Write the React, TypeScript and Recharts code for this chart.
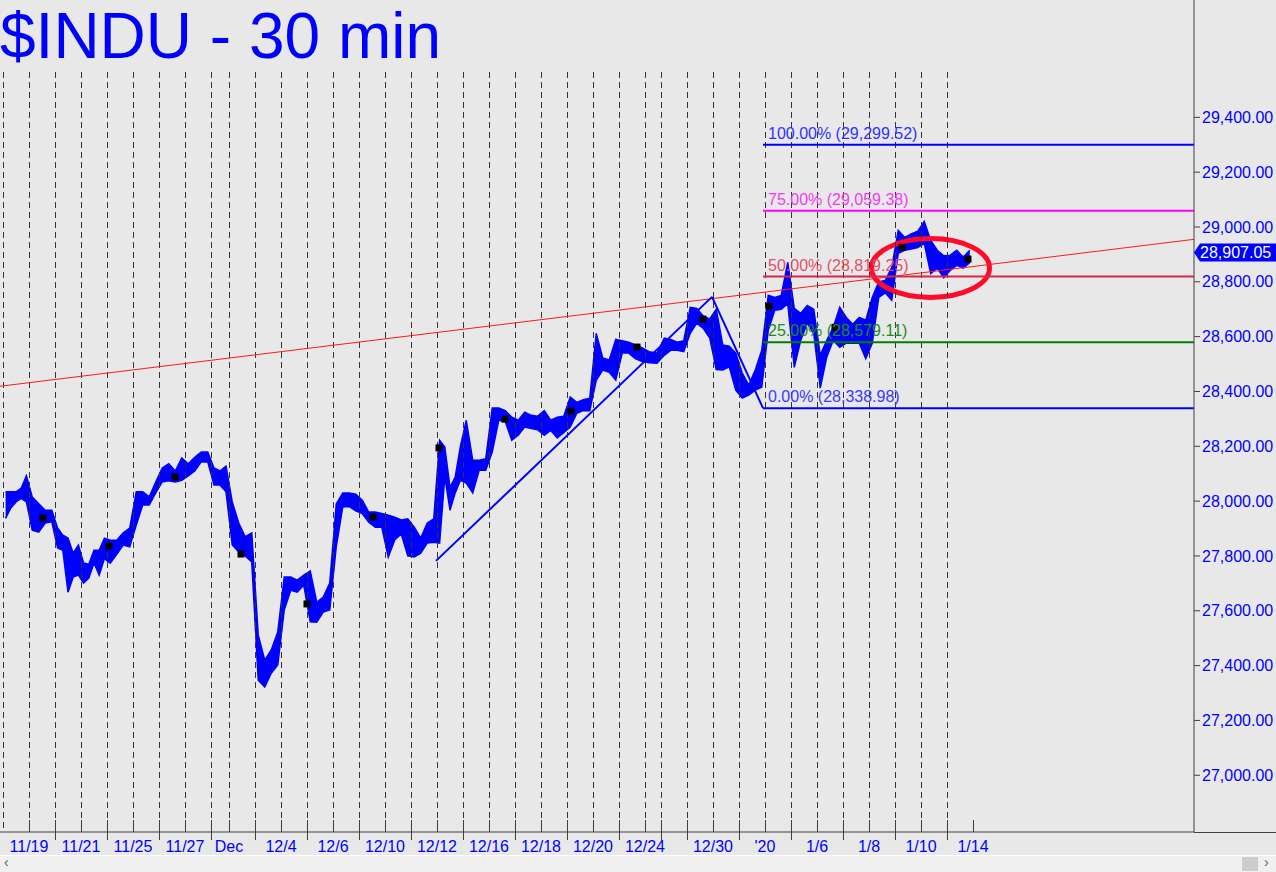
import React from 'react';
import {
  ComposedChart,
  Area,
  XAxis,
  YAxis,
  ReferenceLine,
  ReferenceArea,
  ReferenceDot,
  Scatter,
} from 'recharts';

const FONT = '"Liberation Sans", Arial, Helvetica, sans-serif';

// trading days shown (each 30-min bar = 1 unit on the time axis)
const days = [
  '11/18', '11/19', '11/20', '11/21', '11/22', '11/25', '11/26', '11/27', '11/29',
  '12/2', '12/3', '12/4', '12/5', '12/6', '12/9', '12/10', '12/11', '12/12', '12/13',
  '12/16', '12/17', '12/18', '12/19', '12/20', '12/23', '12/24', '12/26', '12/27',
  '12/30', '12/31', '1/2', '1/3', '1/6', '1/7', '1/8', '1/9', '1/10', '1/13', '1/14',
];
const dayBars = [
  13, 13, 13, 13, 13, 13, 13, 13, 9,
  13, 13, 13, 13, 13, 13, 13, 13, 13, 13,
  13, 13, 13, 13, 13, 13, 8, 13, 13,
  13, 13, 13, 13, 13, 13, 13, 13, 13, 13, 13,
];
const firstDayStart = 1.5;
const totalBars = 597;

// x-axis labels (every other session)
const axisLabels: Record<string, string> = {
  '11/19': '11/19', '11/21': '11/21', '11/25': '11/25', '11/27': '11/27', '12/2': 'Dec',
  '12/4': '12/4', '12/6': '12/6', '12/10': '12/10', '12/12': '12/12', '12/16': '12/16',
  '12/18': '12/18', '12/20': '12/20', '12/24': '12/24', '12/30': '12/30', '1/2': "'20",
  '1/6': '1/6', '1/8': '1/8', '1/10': '1/10', '1/14': '1/14',
};

// price bands [low, high] sampled through each session
const priceRanges: [number, number][][] = [
  [[27937, 28034], [27975, 28034], [27997, 28034], [28010, 28047], [27997, 28092]],
  [[27894, 28015], [27887, 27990], [27920, 27967], [27925, 27967]],
  [[27829, 27902], [27821, 27876], [27668, 27865], [27723, 27810], [27730, 27840]],
  [[27701, 27774], [27719, 27770], [27774, 27821], [27730, 27821], [27790, 27865]],
  [[27774, 27857], [27806, 27857], [27840, 27884], [27833, 27902]],
  [[27913, 28034], [27986, 28034], [27986, 28016], [28030, 28070]],
  [[28070, 28121], [28074, 28136], [28070, 28110], [28076, 28157]],
  [[28092, 28136], [28110, 28160], [28143, 28179], [28143, 28179]],
  [[28059, 28121], [28059, 28110], [28034, 28128]],
  [[27840, 27997], [27815, 27920], [27800, 27870], [27778, 27884]],
  [[27347, 27511], [27322, 27420], [27372, 27457], [27402, 27523]],
  [[27603, 27723], [27675, 27723], [27668, 27712], [27694, 27730]],
  [[27560, 27745], [27558, 27631], [27595, 27650], [27603, 27701]],
  [[27833, 27990], [27979, 28030], [27980, 28030], [27965, 28025]],
  [[27955, 28003], [27923, 27960], [27905, 27960], [27905, 27955]],
  [[27796, 27949], [27858, 27941], [27880, 27931], [27800, 27935]],
  [[27796, 27905], [27810, 27865], [27847, 27920], [27850, 27935]],
  [[27847, 28222], [28088, 28197], [27967, 28050], [28030, 28088], [28076, 28200]],
  [[28066, 28295], [28030, 28149], [28113, 28149], [28113, 28155]],
  [[28179, 28340], [28295, 28340], [28290, 28330], [28222, 28306]],
  [[28240, 28295], [28270, 28324], [28265, 28313], [28260, 28310]],
  [[28240, 28330], [28258, 28295], [28230, 28306], [28250, 28310]],
  [[28270, 28380], [28320, 28360], [28330, 28370], [28330, 28375]],
  [[28441, 28612], [28478, 28522], [28470, 28515], [28441, 28590]],
  [[28540, 28585], [28540, 28580], [28520, 28570], [28510, 28560]],
  [[28505, 28545], [28503, 28540]],
  [[28532, 28595], [28550, 28590], [28550, 28580], [28545, 28585]],
  [[28612, 28707], [28649, 28703], [28630, 28675], [28595, 28665]],
  [[28480, 28700], [28478, 28570], [28490, 28565], [28405, 28540]],
  [[28376, 28467], [28387, 28423], [28405, 28478], [28415, 28550]],
  [[28623, 28751], [28696, 28743], [28700, 28750], [28720, 28871]],
  [[28488, 28703], [28587, 28685], [28649, 28714], [28612, 28700]],
  [[28412, 28532], [28525, 28587], [28587, 28634], [28561, 28707]],
  [[28576, 28670], [28576, 28645], [28576, 28670], [28520, 28660]],
  [[28576, 28743], [28743, 28800], [28760, 28805], [28733, 28852]],
  [[28904, 28988], [28915, 28962], [28920, 28975], [28925, 28985]],
  [[28940, 29020], [28830, 28951], [28850, 28915], [28815, 28895]],
  [[28842, 28897], [28860, 28915], [28850, 28890], [28870, 28915]],
  [],
];

// black marker squares
const markerBars = [21.5, 54.5, 87.5, 120.5, 153.5, 186.5, 219.5, 252.5, 285.5, 318.5, 351.5, 384.5, 417.5, 451, 484];
const markerPrices = [27938, 27836, 28088, 27807, 27625, 27942, 28194, 28299, 28328, 28562, 28664, 28711, 28634, 28926, 28883];

const yTicks = [27000, 27200, 27400, 27600, 27800, 28000, 28200, 28400, 28600, 28800, 29000, 29200, 29400];
const yDomain: [number, number] = [26793, 29828];
const gridTopPrice = 29565;

// Fibonacci levels
const fibPercents = ['100.00%', '75.00%', '50.00%', '25.00%', '0.00%'];
const fibValues = [29299.52, 29059.38, 28819.25, 28579.11, 28338.98];
const fibLineColors = ['#0000ff', '#ff00ff', '#d8284a', '#008000', '#0000ff'];
const fibTextColors = ['#3232ff', '#f03cf0', '#e05068', '#1c8c1c', '#3a3aff'];
const fibStartBar = 381.5;

// drawn lines
const trendBars = [0, 597];
const trendPrices = [28419, 28955];
const zigBars = [218, 356, 381.5];
const zigPrices = [27782, 28745, 28338.98];
const ellipseBars = [435.75, 494.75];
const ellipsePrices = [28743, 28958];
const lastPrice = 28907.05;

const dayStarts: number[] = [];
{
  let s = firstDayStart;
  for (let i = 0; i < days.length; i++) {
    dayStarts.push(s);
    s += dayBars[i];
  }
}

const priceData: { x: number; band: [number, number] }[] = [];
priceRanges.forEach((ranges, d) => {
  const n = ranges.length;
  ranges.forEach((r, i) => {
    priceData.push({ x: dayStarts[d] + ((i + 0.5) * dayBars[d]) / n, band: r });
  });
});

const markers = markerBars.map((b, i) => ({ x: b, p: markerPrices[i] }));

const fmt = (v: number) =>
  v.toLocaleString('en-US', { minimumFractionDigits: 2, maximumFractionDigits: 2 });

const startToDay = new Map<number, string>();
dayStarts.forEach((s, i) => startToDay.set(s, days[i]));

const XTick = (props: any) => {
  const { x, y, payload } = props;
  const day = startToDay.get(payload.value) || '';
  const label = axisLabels[day];
  return (
    <g>
      <line
        x1={x}
        x2={x}
        y1={y - 12}
        y2={label ? y : y + 8}
        stroke="#404040"
        strokeWidth={1}
        shapeRendering="crispEdges"
      />
      {label ? (
        <text x={x} y={y + 20} textAnchor="middle" fill="#0000ff" fontSize={16} fontFamily={FONT}>
          {label}
        </text>
      ) : null}
    </g>
  );
};

const Square = (props: any) => (
  <rect x={props.cx - 3.5} y={props.cy - 3.5} width={7} height={7} fill="#000" />
);

export default function App() {
  return (
    <div
      style={{
        position: 'fixed',
        left: 0,
        top: 0,
        width: 1276,
        height: 872,
        background: '#e8e8e8',
        overflow: 'hidden',
        fontFamily: FONT,
      }}
    >
      <ComposedChart
        width={1276}
        height={855}
        data={priceData}
        margin={{ top: 0, right: 0, bottom: 0, left: 0 }}
      >
        <XAxis
          type="number"
          dataKey="x"
          domain={[0, totalBars]}
          ticks={dayStarts.slice(1)}
          tick={<XTick />}
          tickSize={0}
          tickMargin={0}
          height={23}
          axisLine={{ stroke: '#404040' }}
          tickLine={false}
          allowDataOverflow
          interval={0}
        />
        <YAxis
          orientation="right"
          type="number"
          domain={yDomain}
          ticks={yTicks}
          width={82}
          allowDataOverflow
          tickFormatter={fmt}
          tickSize={6}
          tickMargin={2}
          interval={0}
          tick={{ fill: '#0000ff', fontSize: 16, fontFamily: FONT, textAnchor: 'start' }}
          axisLine={{ stroke: '#404040' }}
          tickLine={{ stroke: '#404040' }}
        />
        {dayStarts.slice(0, -1).map((s) => (
          <ReferenceLine
            key={'d' + s}
            segment={[
              { x: s, y: gridTopPrice },
              { x: s, y: yDomain[0] },
            ]}
            stroke="#333333"
            strokeWidth={1}
            strokeDasharray="6 4"
            shapeRendering="crispEdges"
          />
        ))}
        <ReferenceLine
          segment={[
            { x: trendBars[0], y: trendPrices[0] },
            { x: trendBars[1], y: trendPrices[1] },
          ]}
          stroke="#ff1a1a"
          strokeWidth={1}
        />
        {fibValues.map((v, i) => (
          <ReferenceLine
            key={'f' + i}
            segment={[
              { x: fibStartBar, y: v },
              { x: totalBars, y: v },
            ]}
            stroke={fibLineColors[i]}
            strokeWidth={2}
          />
        ))}
        <Area
          type="linear"
          dataKey="band"
          stroke="#0000ff"
          strokeWidth={1.5}
          fill="#0000ff"
          fillOpacity={1}
          dot={false}
          activeDot={false}
          isAnimationActive={false}
        />
        <ReferenceLine
          segment={[
            { x: zigBars[0], y: zigPrices[0] },
            { x: zigBars[1], y: zigPrices[1] },
          ]}
          stroke="#0000ff"
          strokeWidth={2}
        />
        <ReferenceLine
          segment={[
            { x: zigBars[1], y: zigPrices[1] },
            { x: zigBars[2], y: zigPrices[2] },
          ]}
          stroke="#0000ff"
          strokeWidth={2}
        />
        <Scatter data={markers} dataKey="p" shape={<Square />} isAnimationActive={false} />
        {fibValues.map((v, i) => (
          <ReferenceDot
            key={'fl' + i}
            x={fibStartBar}
            y={v}
            ifOverflow="visible"
            shape={(p: any) => (
              <text x={p.cx + 5} y={p.cy - 6} fill={fibTextColors[i]} fontSize={16} fontFamily={FONT}>
                {`${fibPercents[i]} (${fmt(v)})`}
              </text>
            )}
          />
        ))}
        <ReferenceArea
          x1={ellipseBars[0]}
          x2={ellipseBars[1]}
          y1={ellipsePrices[0]}
          y2={ellipsePrices[1]}
          ifOverflow="visible"
          shape={(p: any) => (
            <ellipse
              cx={p.x + p.width / 2}
              cy={p.y + p.height / 2}
              rx={Math.abs(p.width / 2)}
              ry={Math.abs(p.height / 2)}
              fill="none"
              stroke="#ff0a2a"
              strokeWidth={5}
            />
          )}
        />
        <ReferenceDot
          x={totalBars}
          y={lastPrice}
          ifOverflow="visible"
          shape={(p: any) => (
            <g>
              <polygon
                points={`${p.cx},${p.cy} ${p.cx + 6},${p.cy - 9} ${p.cx + 82},${p.cy - 9} ${p.cx + 82},${p.cy + 9} ${p.cx + 6},${p.cy + 9}`}
                fill="#0000ff"
              />
              <text x={p.cx + 6} y={p.cy} dy="0.36em" fill="#ffffff" fontSize={16} fontFamily={FONT}>
                {fmt(lastPrice)}
              </text>
            </g>
          )}
        />
      </ComposedChart>
      <svg
        width={500}
        height={80}
        style={{ position: 'absolute', left: 0, top: 0, pointerEvents: 'none' }}
      >
        <text x={0} y={58} fill="#0000ff" fontSize={64} fontFamily={FONT}>
          $INDU - 30 min
        </text>
      </svg>
      <div style={{ position: 'absolute', left: 1194, top: 832, width: 82, height: 1, background: '#404040' }} />
      <div style={{ position: 'absolute', left: 0, top: 855, width: 1276, height: 1, background: '#ffffff' }} />
      <div style={{ position: 'absolute', left: 0, top: 856, width: 1276, height: 16, background: '#f0f0f0' }}>
        <span style={{ position: 'absolute', left: 4, top: -2, fontSize: 14, color: '#606060' }}>‹</span>
        <div style={{ position: 'absolute', left: 1242, top: 1, width: 16, height: 14, background: '#cdcdcd' }} />
        <span style={{ position: 'absolute', left: 1264, top: -2, fontSize: 14, color: '#606060' }}>›</span>
      </div>
    </div>
  );
}
